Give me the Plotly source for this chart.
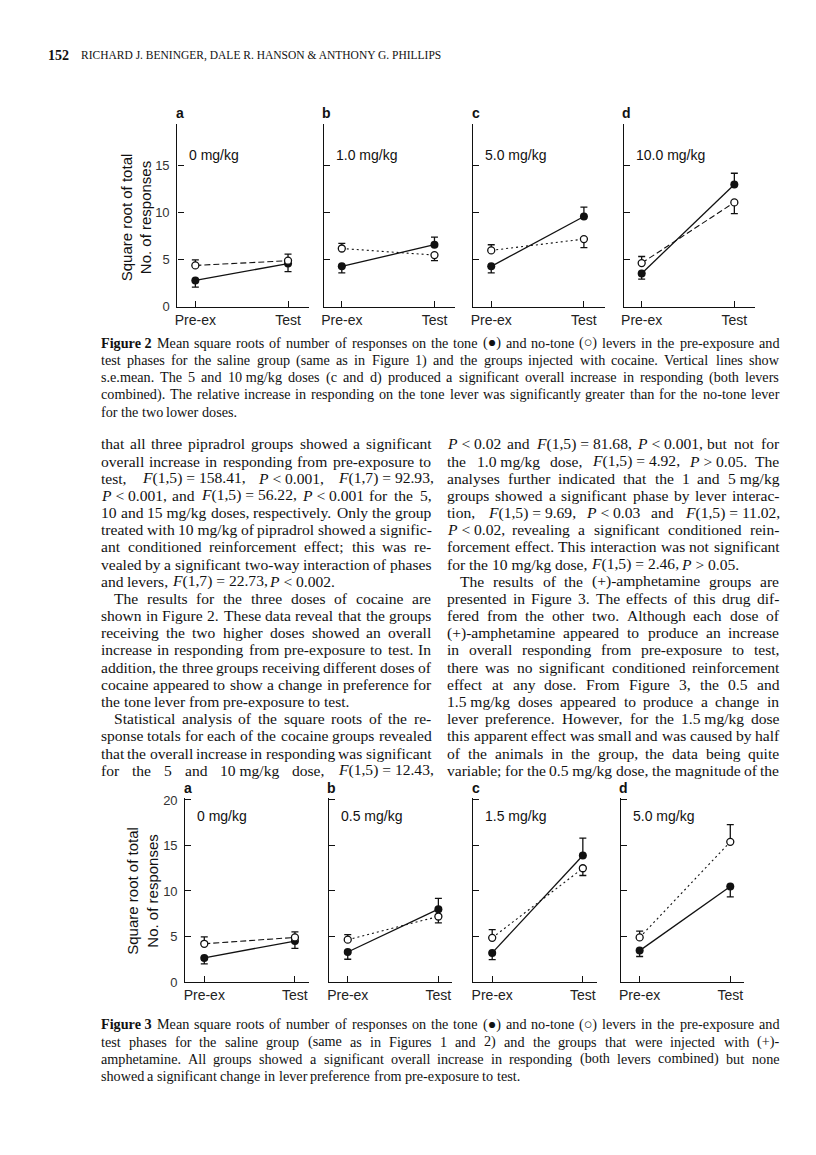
import re
import plotly.graph_objects as go

# page is 816x1155; the html body keeps an 8px margin, so the figure is drawn
# 16px smaller and every page coordinate is shifted by that margin
PAGE_W, PAGE_H = 816, 1155
OFF = 8
W, H = PAGE_W - 2 * OFF, PAGE_H - 2 * OFF
# measured vertical squeeze of the captured page
VS, VC = 0.987, 5.5

# ---- chart data (square root of total no. of responses) ----
phase = ["Pre-ex", "Test"]
panel_letters = ["a", "b", "c", "d"]

fig2_doses = ["0 mg/kg", "1.0 mg/kg", "5.0 mg/kg", "10.0 mg/kg"]
fig2_tone = [[2.8, 4.6], [4.3, 6.6], [4.3, 9.6], [3.55, 13.0]]
fig2_tone_up = [[0, 0], [0, 0.8], [0, 1.0], [0, 1.2]]
fig2_tone_dn = [[0.7, 0.85], [0.7, 0], [0.7, 0], [0.6, 0]]
fig2_notone = [[4.4, 4.9], [6.2, 5.5], [6.0, 7.2], [4.65, 11.1]]
fig2_notone_up = [[0.6, 0.7], [0.55, 0], [0.6, 0], [0.7, 0]]
fig2_notone_dn = [[0, 0], [0, 0.6], [0, 0.9], [0, 1.2]]
fig2_dash = ["6px,3px", "2px,3px", "2px,3px", "6px,3px"]

fig3_doses = ["0 mg/kg", "0.5 mg/kg", "1.5 mg/kg", "5.0 mg/kg"]
fig3_tone = [[2.65, 4.5], [3.3, 8.0], [3.2, 13.9], [3.45, 10.5]]
fig3_tone_up = [[0, 0], [0, 1.2], [0, 1.9], [0, 0]]
fig3_tone_dn = [[0.65, 0.8], [0.8, 0], [0.75, 0], [0.65, 1.15]]
fig3_notone = [[4.2, 4.9], [4.65, 7.2], [4.85, 12.5], [4.9, 15.4]]
fig3_notone_up = [[0.75, 0.6], [0.55, 0], [0.9, 0], [0.7, 1.9]]
fig3_notone_dn = [[0, 0], [0, 0.7], [0, 0.8], [0, 0]]
fig3_dash = ["6px,3px", "2px,3px", "2px,3px", "2px,3px"]

ytitle = "Square root of total<br>No. of responses"

# ---- page text ----
header_num = "152"
header_authors = "RICHARD J. BENINGER, DALE R. HANSON & ANTHONY G. PHILLIPS"

cap2 = [
    ("<b>Figure~2</b>~ Mean square roots of number of responses on the tone (●) and no-tone (○) levers in the pre-exposure and", True),
    ("test phases for the saline group (same as in Figure 1) and the groups injected with cocaine. Vertical lines show", True),
    ("s.e.mean. The 5 and 10~mg/kg doses (c and d) produced a significant overall increase in responding (both levers", True),
    ("combined). The relative increase in responding on the tone lever was significantly greater than for the no-tone lever", True),
    ("for the two lower doses.", False),
]
cap3 = [
    ("<b>Figure~3</b>~ Mean square roots of number of responses on the tone (●) and no-tone (○) levers in the pre-exposure and", True),
    ("test phases for the saline group (same as in Figures 1 and 2) and the groups that were injected with (+)-", True),
    ("amphetamine. All groups showed a significant overall increase in responding (both levers combined) but none", True),
    ("showed a significant change in lever preference from pre-exposure to test.", False),
]
col_left = [
    ("that all three pipradrol groups showed a significant", True, 0),
    ("overall increase in responding from pre-exposure to", True, 0),
    ("test, <i>F</i>(1,5)~=~158.41, <i>P</i>~<~0.001, <i>F</i>(1,7)~=~92.93,", True, 0),
    ("<i>P</i>~<~0.001, and <i>F</i>(1,5)~=~56.22, <i>P</i>~<~0.001 for the 5,", True, 0),
    ("10 and 15~mg/kg doses, respectively. Only the group", True, 0),
    ("treated with 10~mg/kg of pipradrol showed a signific-", True, 0),
    ("ant conditioned reinforcement effect; this was re-", True, 0),
    ("vealed by a significant two-way interaction of phases", True, 0),
    ("and levers, <i>F</i>(1,7)~=~22.73, <i>P</i>~<~0.002.", False, 0),
    ("The results for the three doses of cocaine are", True, 13),
    ("shown in Figure 2. These data reveal that the groups", True, 0),
    ("receiving the two higher doses showed an overall", True, 0),
    ("increase in responding from pre-exposure to test. In", True, 0),
    ("addition, the three groups receiving different doses of", True, 0),
    ("cocaine appeared to show a change in preference for", True, 0),
    ("the tone lever from pre-exposure to test.", False, 0),
    ("Statistical analysis of the square roots of the re-", True, 13),
    ("sponse totals for each of the cocaine groups revealed", True, 0),
    ("that the overall increase in responding was significant", True, 0),
    ("for the 5 and 10~mg/kg dose, <i>F</i>(1,5)~=~12.43,", True, 0),
]
col_right = [
    ("<i>P</i>~<~0.02 and <i>F</i>(1,5)~=~81.68, <i>P</i>~<~0.001, but not for", True, 0),
    ("the 1.0~mg/kg dose, <i>F</i>(1,5)~=~4.92, <i>P</i>~>~0.05. The", True, 0),
    ("analyses further indicated that the 1 and 5~mg/kg", True, 0),
    ("groups showed a significant phase by lever interac-", True, 0),
    ("tion, <i>F</i>(1,5)~=~9.69, <i>P</i>~<~0.03 and <i>F</i>(1,5)~=~11.02,", True, 0),
    ("<i>P</i>~<~0.02, revealing a significant conditioned rein-", True, 0),
    ("forcement effect. This interaction was not significant", True, 0),
    ("for the 10~mg/kg dose, <i>F</i>(1,5)~=~2.46, <i>P</i>~>~0.05.", False, 0),
    ("The results of the (+)-amphetamine groups are", True, 13),
    ("presented in Figure 3. The effects of this drug dif-", True, 0),
    ("fered from the other two. Although each dose of", True, 0),
    ("(+)-amphetamine appeared to produce an increase", True, 0),
    ("in overall responding from pre-exposure to test,", True, 0),
    ("there was no significant conditioned reinforcement", True, 0),
    ("effect at any dose. From Figure 3, the 0.5 and", True, 0),
    ("1.5~mg/kg doses appeared to produce a change in", True, 0),
    ("lever preference. However, for the 1.5~mg/kg dose", True, 0),
    ("this apparent effect was small and was caused by half", True, 0),
    ("of the animals in the group, the data being quite", True, 0),
    ("variable; for the 0.5~mg/kg dose, the magnitude of the", True, 0),
]

SERIF = "Liberation Serif"
SANS = "Liberation Sans, Arial"

# Times glyph widths (1/1000 em), used to space the words of justified lines
TW = {" ": 250, ",": 250, ".": 250, ";": 278, ":": 278, "-": 333, "(": 333, ")": 333,
      "=": 564, "<": 564, ">": 564, "+": 564, "/": 278, "&": 778, "●": 600, "○": 600}
for c in "0123456789":
    TW[c] = 500
TW.update(dict(zip("ABCDEFGHIJKLMNOPQRSTUVWXYZ",
                   [722, 667, 667, 722, 611, 556, 722, 722, 333, 389, 722, 611, 889,
                    722, 722, 556, 722, 667, 556, 611, 722, 722, 944, 722, 722, 611])))
TW.update(dict(zip("abcdefghijklmnopqrstuvwxyz",
                   [444, 500, 444, 500, 444, 333, 500, 500, 278, 278, 500, 278, 778,
                    500, 500, 500, 500, 333, 389, 278, 500, 500, 722, 500, 500, 444])))


def width(s, size):
    plain = re.sub("<[^>]+>", "", s).replace("~", " ")
    return sum(TW.get(c, 500) for c in plain) * size / 1000


def px(x):
    return (x - OFF) / W


def py(y):
    page = (y - VC) / VS
    return 1 - (page - OFF) / H


annotations = []


def txt(x, y, s, size, font=SERIF, anchor="left", color="#111", angle=0):
    annotations.append(dict(x=px(x), y=py(y), xref="paper", yref="paper", text=s,
                            showarrow=False, xanchor=anchor, yanchor="middle",
                            textangle=angle, borderpad=0, borderwidth=0,
                            font=dict(family=font, size=size, color=color)))


def fit_size(lines, left, right, cap):
    # largest font size where every justified line keeps a small word gap
    best = cap
    for line in lines:
        if not line[1]:
            continue
        indent = line[2] if len(line) > 2 else 0
        words = line[0].split(" ")
        units = width(" ".join(words), 1) - (len(words) - 1) * 0.25 + (len(words) - 1) * 0.22
        best = min(best, (right - left - indent) / units)
    return best


def paragraph(lines, left, right, y0, step, size):
    for i, line in enumerate(lines):
        s, just = line[0], line[1]
        indent = line[2] if len(line) > 2 else 0
        words = s.split(" ")
        ws = [width(w, size) for w in words]
        x0 = left + indent
        if just and len(words) > 1:
            gap = (right - x0 - sum(ws)) / (len(words) - 1)
        else:
            gap = size * 0.25
        x = x0
        y = y0 + i * step
        for w, wd in zip(words, ws):
            txt(x, y, w.replace("~", " "), size)
            x += wd + gap


# header
txt(45, 55, "<b>" + header_num + "</b>", 14)
txt(78, 55, header_authors, 11.5)

paragraph(cap2, 98, 779, 342, 17.2, fit_size(cap2, 98, 779, 14.2))
body_size = min(fit_size(col_left, 98, 430, 15.6), fit_size(col_right, 446, 779, 15.6))
paragraph(col_left, 98, 430, 443, 17.16, body_size)
paragraph(col_right, 446, 779, 443, 17.16, body_size)
paragraph(cap3, 98, 779, 1023, 17.2, fit_size(cap3, 98, 779, 14.2))

fig = go.Figure()
layout = {}


def add_panel(n, left, wpx, bottom, top, xr, yr, yticks, show_yl, dose, letter,
              tone, t_up, t_dn, nt, n_up, n_dn, dash, label_y, dose_y):
    xs = "x" if n == 1 else f"x{n}"
    ys = "y" if n == 1 else f"y{n}"
    xa = "xaxis" if n == 1 else f"xaxis{n}"
    yax = "yaxis" if n == 1 else f"yaxis{n}"
    layout[xa] = dict(domain=[px(left), px(left + wpx)], range=xr, anchor=ys,
                      tickvals=[0, 1], ticktext=phase, ticks="inside", ticklen=6,
                      tickcolor="#111", tickwidth=1.2, showline=True, linecolor="#111",
                      linewidth=1.3, showgrid=False, zeroline=False,
                      tickfont=dict(family=SANS, size=14, color="#222"))
    layout[yax] = dict(domain=[py(bottom), py(top)], range=yr, anchor=xs,
                       tickvals=yticks, showticklabels=show_yl, ticks="inside",
                       ticklen=6, tickcolor="#111", tickwidth=1.2, showline=True,
                       linecolor="#111", linewidth=1.3, showgrid=False,
                       zeroline=False, ticklabelstandoff=4,
                       tickfont=dict(family=SANS, size=13, color="#333"))
    fig.add_trace(go.Scatter(
        x=[0, 1], y=nt, xaxis=xs, yaxis=ys, mode="lines",
        line=dict(color="#111", width=1.1, dash=dash), showlegend=False))
    fig.add_trace(go.Scatter(
        x=[0, 1], y=tone, xaxis=xs, yaxis=ys, mode="lines+markers",
        line=dict(color="#111", width=1.3),
        marker=dict(symbol="circle", size=8, color="#111"),
        error_y=dict(type="data", symmetric=False, array=t_up, arrayminus=t_dn,
                     color="#111", thickness=1.3, width=3.5),
        showlegend=False))
    fig.add_trace(go.Scatter(
        x=[0, 1], y=nt, xaxis=xs, yaxis=ys, mode="markers",
        marker=dict(symbol="circle", size=7, color="white",
                    line=dict(color="#111", width=1.3)),
        error_y=dict(type="data", symmetric=False, array=n_up, arrayminus=n_dn,
                     color="#111", thickness=1.3, width=3.5),
        showlegend=False))
    txt(left + 3, label_y, "<b>" + letter + "</b>", 14, font=SANS, anchor="center")
    txt(left + 12, dose_y, dose, 14, font=SANS)


# Figure 2 (cocaine)
fig2_left = [175, 322, 472, 623]
for i in range(4):
    add_panel(i + 1, fig2_left[i], 132, 306, 123, [-0.194, 1.225], [0, 19.47],
              [0, 5, 10, 15], i == 0, fig2_doses[i], panel_letters[i],
              fig2_tone[i], fig2_tone_up[i], fig2_tone_dn[i],
              fig2_notone[i], fig2_notone_up[i], fig2_notone_dn[i], fig2_dash[i],
              112, 154)
txt(134, 217, ytitle, 15, font=SANS, anchor="center", angle=-90)

# Figure 3 ((+)-amphetamine)
fig3_left = [183, 327, 472, 620]
for i in range(4):
    add_panel(i + 5, fig3_left[i], 124, 980.7, 797, [-0.209, 1.154], [0, 20.2],
              [0, 5, 10, 15, 20], i == 0, fig3_doses[i], panel_letters[i],
              fig3_tone[i], fig3_tone_up[i], fig3_tone_dn[i],
              fig3_notone[i], fig3_notone_up[i], fig3_notone_dn[i], fig3_dash[i],
              787, 815)
txt(140, 890, ytitle, 15, font=SANS, anchor="center", angle=-90)

fig.update_layout(width=W, height=H, margin=dict(l=0, r=0, t=0, b=0),
                  paper_bgcolor="white", plot_bgcolor="white",
                  annotations=annotations, **layout)

fig.write_html("out.html")
